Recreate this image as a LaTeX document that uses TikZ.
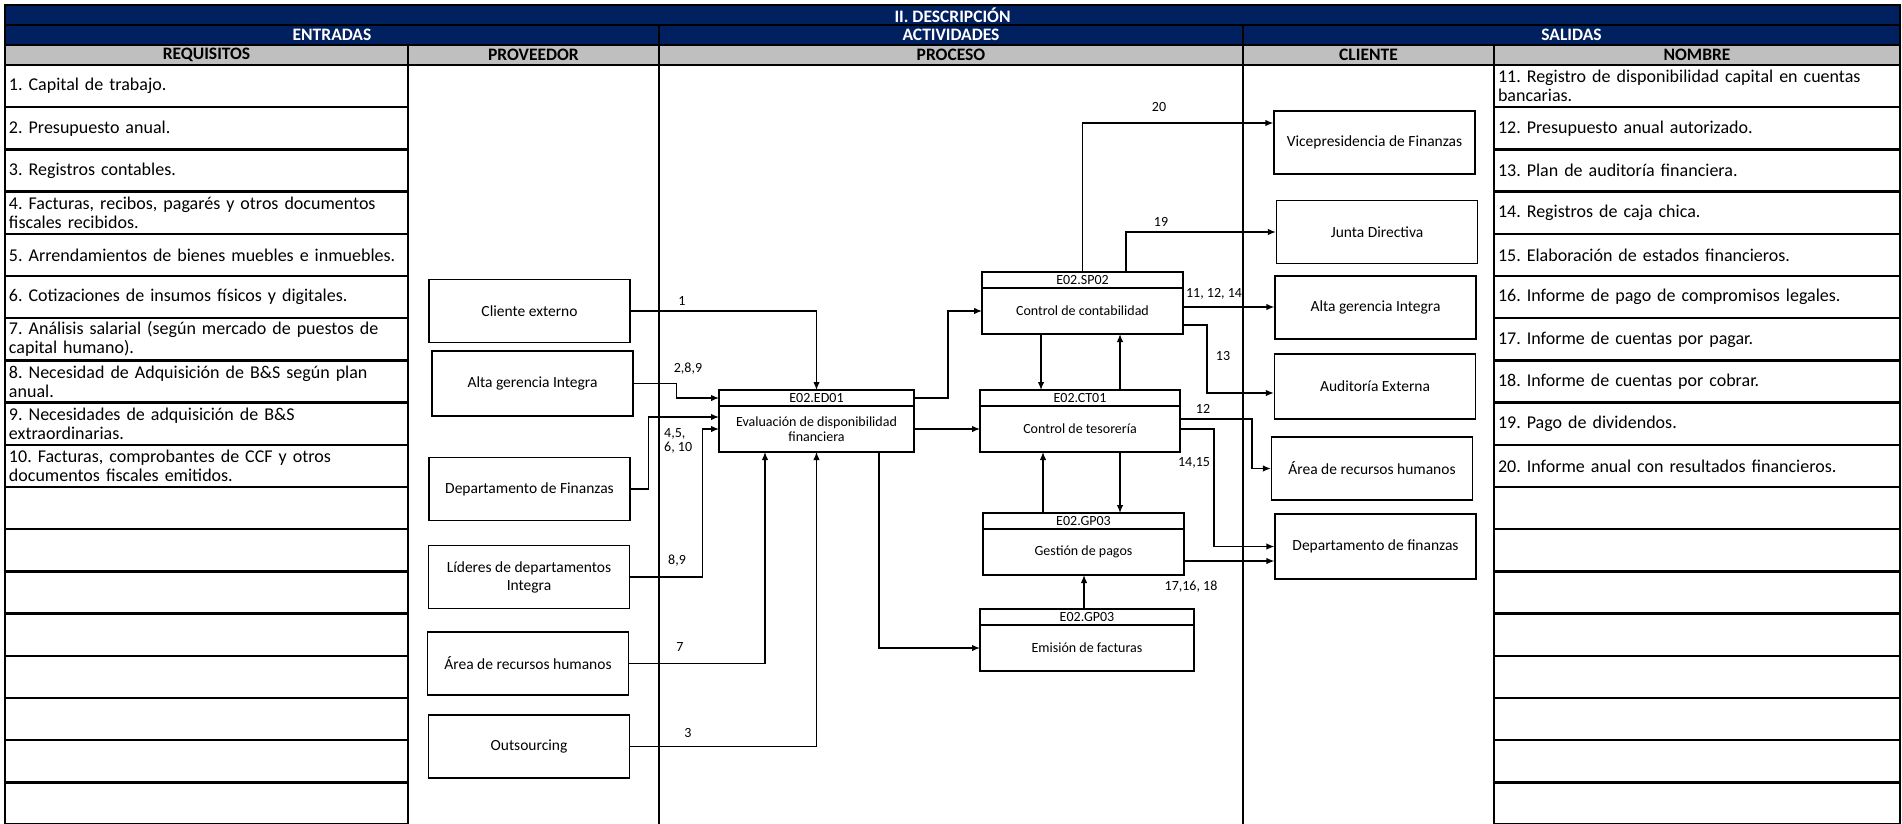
\documentclass[tikz,border=0pt]{standalone}
\usepackage{fontspec}
\setmainfont{Carlito}
\usetikzlibrary{positioning, arrows.meta}
\definecolor{navy}{RGB}{0,32,96}
\definecolor{headgray}{RGB}{191,191,191}
\tikzstyle{hdr} = [rectangle, draw=black, line width=2.4pt, fill=navy, text=white, minimum height=20, inner sep=0pt, outer sep=0pt, font=\bfseries\fontsize{17.5}{18}\selectfont]
\tikzstyle{subhdr} = [hdr, fill=headgray, text=black]
\tikzstyle{cell} = [rectangle, draw=black, line width=2.4pt, minimum height=42.2, inner xsep=4pt, inner ysep=1pt, outer sep=0pt, align=left, font=\fontsize{18}{19}\selectfont]
\tikzstyle{prov} = [rectangle, draw=black, line width=1.3pt, minimum width=201, minimum height=63, align=center, font=\fontsize{15.5}{18}\selectfont]
\tikzstyle{codebox} = [rectangle, draw=black, line width=1.3pt, minimum height=16, inner sep=0pt, outer sep=0pt, font=\fontsize{14}{15}\selectfont]
\tikzstyle{process} = [rectangle, draw=black, line width=1.3pt, minimum height=46, inner sep=1pt, outer sep=0pt, align=center, font=\fontsize{14}{15}\selectfont]
\tikzstyle{lbl} = [inner sep=0pt, font=\fontsize{14}{14}\selectfont]
\tikzstyle{arrow} = [line width=1.3pt, ->, >={Latex[length=8pt, width=6.5pt]}]

\begin{document}
\frenchspacing
\begin{tikzpicture}[x=1pt, y=-1pt]
\useasboundingbox (0,0) rectangle (1902,823);

% encabezado
\node (htitle) [hdr, minimum width=1895, anchor=north west] at (5,5) {II. DESCRIPCIÓN};
\node (hent) [hdr, minimum width=654, anchor=north west] at (htitle.south west) {ENTRADAS};
\node (hact) [hdr, minimum width=584, right=0pt of hent] {ACTIVIDADES};
\node (hsal) [hdr, minimum width=657, right=0pt of hact] {SALIDAS};
\node (hreq) [subhdr, minimum width=403, anchor=north west] at (hent.south west) {REQUISITOS};
\node (hprov) [subhdr, minimum width=251, right=0pt of hreq] {PROVEEDOR};
\node (hproc) [subhdr, minimum width=584, right=0pt of hprov] {PROCESO};
\node (hcli) [subhdr, minimum width=251, right=0pt of hproc] {CLIENTE};
\node (hnom) [subhdr, minimum width=406, right=0pt of hcli] {NOMBRE};

% requisitos
\node (req1) [cell, text width=395, below=0pt of hreq] {1. Capital de trabajo.};
\node (req2) [cell, text width=395, below=0pt of req1] {2. Presupuesto anual.};
\node (req3) [cell, text width=395, below=0pt of req2] {3. Registros contables.};
\node (req4) [cell, text width=395, below=0pt of req3] {4. Facturas, recibos, pagarés y otros documentos\\fiscales recibidos.};
\node (req5) [cell, text width=395, below=0pt of req4] {5. Arrendamientos de bienes muebles e inmuebles.};
\node (req6) [cell, text width=395, below=0pt of req5] {6. Cotizaciones de insumos físicos y digitales.};
\node (req7) [cell, text width=395, below=0pt of req6] {7. Análisis salarial (según mercado de puestos de\\capital humano).};
\node (req8) [cell, text width=395, below=0pt of req7] {8. Necesidad de Adquisición de B\&S según plan\\anual.};
\node (req9) [cell, text width=395, below=0pt of req8] {9. Necesidades de adquisición de B\&S\\extraordinarias.};
\node (req10) [cell, text width=395, below=0pt of req9] {10. Facturas, comprobantes de CCF y otros\\documentos fiscales emitidos.};
\foreach \i [count=\j from 10] in {11,...,18}
  \node (req\i) [cell, text width=395, below=0pt of req\j] {};

% salidas
\node (nom1) [cell, text width=398, below=0pt of hnom] {11. Registro de disponibilidad capital en cuentas\\bancarias.};
\node (nom2) [cell, text width=398, below=0pt of nom1] {12. Presupuesto anual autorizado.};
\node (nom3) [cell, text width=398, below=0pt of nom2] {13. Plan de auditoría financiera.};
\node (nom4) [cell, text width=398, below=0pt of nom3] {14. Registros de caja chica.};
\node (nom5) [cell, text width=398, below=0pt of nom4] {15. Elaboración de estados financieros.};
\node (nom6) [cell, text width=398, below=0pt of nom5] {16. Informe de pago de compromisos legales.};
\node (nom7) [cell, text width=398, below=0pt of nom6] {17. Informe de cuentas por pagar.};
\node (nom8) [cell, text width=398, below=0pt of nom7] {18. Informe de cuentas por cobrar.};
\node (nom9) [cell, text width=398, below=0pt of nom8] {19. Pago de dividendos.};
\node (nom10) [cell, text width=398, below=0pt of nom9] {20. Informe anual con resultados financieros.};
\foreach \i [count=\j from 10] in {11,...,18}
  \node (nom\i) [cell, text width=398, below=0pt of nom\j] {};

\coordinate (bot) at (0,830);
\draw [line width=2.4pt] (hproc.south west) -- (hproc.south west |- bot);
\draw [line width=2.4pt] (hproc.south east) -- (hproc.south east |- bot);

% proveedores
\node (cliext) [prov] at (529.5,311) {Cliente externo};
\node (altaprov) [prov, minimum height=65] at (532.5,383.5) {Alta gerencia Integra};
\node (deptoprov) [prov] at (529.5,489) {Departamento de Finanzas};
\node (lideres) [prov] at (529,577) {Líderes de departamentos\\Integra};
\node (areaprov) [prov] at (528,663.5) {Área de recursos humanos};
\node (outs) [prov] at (529,746.5) {Outsourcing};

% clientes
\node (vice) [prov] at (1374.5,142.5) {Vicepresidencia de Finanzas};
\node (junta) [prov] at (1377,232) {Junta Directiva};
\node (altacli) [prov] at (1375.5,307.5) {Alta gerencia Integra};
\node (audit) [prov, minimum height=65] at (1375,386.5) {Auditoría Externa};
\node (areacli) [prov] at (1372,468.5) {Área de recursos humanos};
\node (deptocli) [prov, minimum height=65] at (1375.5,546.5) {Departamento de finanzas};

% actividades
\node (ed01c) [codebox, minimum width=195] at (816.5,398) {E02.ED01};
\node (ed01) [process, minimum width=195, below=0pt of ed01c] {Evaluación de disponibilidad\\financiera};
\node (sp02c) [codebox, minimum width=201] at (1082.5,280) {E02.SP02};
\node (sp02) [process, minimum width=201, below=0pt of sp02c] {Control de contabilidad};
\node (ct01c) [codebox, minimum width=200] at (1080,398) {E02.CT01};
\node (ct01) [process, minimum width=200, below=0pt of ct01c] {Control de tesorería};
\node (gestionc) [codebox, minimum width=201] at (1083.5,521) {E02.GP03};
\node (gestion) [process, minimum width=201, below=0pt of gestionc] {Gestión de pagos};
\node (emisionc) [codebox, minimum width=214] at (1087,617) {E02.GP03};
\node (emision) [process, minimum width=214, below=0pt of emisionc] {Emisión de facturas};

% entradas
\draw [arrow] (cliext.east) -| (ed01c.north);
\draw [arrow] (altaprov.east) -- ++(43,0) |- (ed01c.west);
\draw [arrow] (deptoprov.east) -- ++(18,0) |- ([yshift=12pt]ed01.west);
\draw [arrow] (lideres.east) -- ++(72.5,0) |- (ed01.west);
\draw [arrow] (areaprov.east) -| ([xshift=-51.5pt]ed01.south);
\draw [arrow] (outs.east) -| (ed01.south);
\node (n1) [lbl] at (682,301) {1};
\node (n289) [lbl] at (688,369) {2,8,9};
\node (n4510) [lbl, align=left, anchor=west] at (664,441) {4,5,\\6, 10};
\node (n89) [lbl] at (677,561) {8,9};
\node (n7) [lbl] at (680,647) {7};
\node (n3) [lbl] at (688,733) {3};

% flujo interno
\draw [arrow] (ed01.east) -- (ct01.west);
\draw [arrow] (ed01c.east) -- ++(34,0) |- (sp02.west);
\draw [arrow] ([xshift=62.5pt]ed01.south) |- (emision.west);
\coordinate (s1) at ([xshift=-41.5pt]sp02.south);
\draw [arrow] (s1) -- (s1 |- ct01c.north);
\coordinate (c1) at ([xshift=40pt]ct01c.north);
\draw [arrow] (c1) -- (c1 |- sp02.south);
\coordinate (g1) at ([xshift=-40.5pt]gestionc.north);
\draw [arrow] (g1) -- (g1 |- ct01.south);
\coordinate (c2) at ([xshift=40pt]ct01.south);
\draw [arrow] (c2) -- (c2 |- gestionc.north);
\coordinate (e1) at ([xshift=-3pt]emisionc.north);
\draw [arrow] (e1) -- (e1 |- gestion.south);

% salidas
\draw [arrow] (sp02c.north) |- ([yshift=19.5pt]vice.west);
\draw [arrow] ([xshift=43.5pt]sp02c.north) |- (junta.west);
\coordinate (s3) at ([yshift=4pt]sp02.east);
\draw [arrow] (s3) -- (s3 -| altacli.west);
\draw [arrow] ([yshift=-14pt]sp02.east) -- ++(24,0) |- ([yshift=-6.5pt]audit.west);
\draw [arrow] ([yshift=10pt]ct01.east) -- ++(72,0) |- (areacli.west);
\draw [arrow] (ct01.east) -- ++(34,0) |- (deptocli.west);
\coordinate (g2) at ([yshift=-9pt]gestion.east);
\draw [arrow] (g2) -- (g2 -| deptocli.west);
\node (n20) [lbl] at (1159,107) {20};
\node (n19) [lbl] at (1161,222) {19};
\node (n111214) [lbl] at (1214,294) {11, 12, 14};
\node (n13) [lbl] at (1223,356) {13};
\node (n12) [lbl] at (1203,409) {12};
\node (n1415) [lbl] at (1194,463) {14,15};
\node (n171618) [lbl] at (1191,587) {17,16, 18};
\end{tikzpicture}
\end{document}
